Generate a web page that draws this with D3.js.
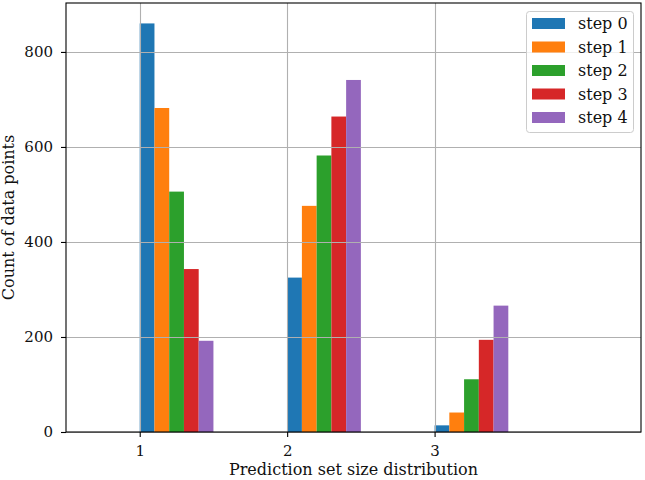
<!DOCTYPE html>
<html><head><meta charset="utf-8">
<script src="https://cdn.jsdelivr.net/npm/d3@7"></script>
<style>
html,body{margin:0;padding:0;background:#fff;}
svg{display:block;}
text{font-family:"DejaVu Serif",serif;}
</style></head>
<body>
<svg id="c" width="645" height="480"></svg>
<script>
const categories = [1, 2, 3];
const seriesNames = ["step 0", "step 1", "step 2", "step 3", "step 4"];
const step0 = [860, 325, 14];
const step1 = [682, 476, 41];
const step2 = [506, 582, 111];
const step3 = [343, 664, 194];
const step4 = [192, 741, 266];
const seriesValues = [step0, step1, step2, step3, step4];
const colors = ["#1f77b4", "#ff7f0e", "#2ca02c", "#d62728", "#9467bd"];
const yTicks = [0, 200, 400, 600, 800];
const xLabel = "Prediction set size distribution";
const yLabel = "Count of data points";

const L = 66, R = 641, T = 3, B = 432;
const svg = d3.select("#c");
const x = d3.scaleLinear().domain([0.5, 4.4]).range([L, R]);
const y = d3.scaleLinear().domain([0, 903]).range([B, T]);
const barStep = 0.1;
const bw = x(barStep) - x(0);

// bars
seriesValues.forEach((vals, i) => {
  svg.append("g").selectAll("rect").data(vals).join("rect")
    .attr("x", (d, j) => x(categories[j] + i * barStep))
    .attr("y", d => y(d))
    .attr("width", bw)
    .attr("height", d => y(0) - y(d))
    .attr("fill", colors[i]);
});

// grid (above bars like matplotlib)
const grid = svg.append("g").attr("stroke", "#b0b0b0").attr("stroke-width", 1.1);
grid.selectAll("line.h").data(yTicks).join("line")
  .attr("x1", L).attr("x2", R).attr("y1", d => Math.round(y(d)) + 0.5).attr("y2", d => Math.round(y(d)) + 0.5);
grid.selectAll("line.v").data(categories).join("line")
  .attr("y1", T).attr("y2", B).attr("x1", d => Math.round(x(d)) + 0.5).attr("x2", d => Math.round(x(d)) + 0.5);

// axes
const xAxis = d3.axisBottom(x).tickValues(categories).tickFormat(d3.format("d")).tickSizeInner(5).tickSizeOuter(0).tickPadding(8);
const yAxis = d3.axisLeft(y).tickValues(yTicks).tickFormat(d3.format("d")).tickSizeInner(5).tickSizeOuter(0).tickPadding(8);
const gx = svg.append("g").attr("transform", `translate(0,${B})`).call(xAxis);
const gy = svg.append("g").attr("transform", `translate(${L},0)`).call(yAxis);
[gx, gy].forEach(g => {
  g.select(".domain").remove();
  g.selectAll("line").attr("stroke", "#000").attr("stroke-width", 1.1);
  g.selectAll("text").attr("font-family", "DejaVu Serif").attr("font-size", 15).attr("fill", "#111");
});

// spines
svg.append("rect").attr("x", L).attr("y", T).attr("width", R - L).attr("height", B - T)
  .attr("fill", "none").attr("stroke", "#000").attr("stroke-width", 1.1);

// labels
svg.append("text").attr("x", (L + R) / 2).attr("y", 475).attr("text-anchor", "middle")
  .attr("font-size", 16).attr("fill", "#111").text(xLabel);
svg.append("text").attr("transform", `translate(14,${(T + B) / 2}) rotate(-90)`).attr("text-anchor", "middle")
  .attr("font-size", 16).attr("fill", "#111").text(yLabel);

// legend
const lg = svg.append("g");
lg.append("rect").attr("x", 526.5).attr("y", 11.5).attr("width", 107).attr("height", 121).attr("rx", 3)
  .attr("fill", "#fff").attr("fill-opacity", 0.8).attr("stroke", "#cccccc").attr("stroke-width", 1);
seriesNames.forEach((name, i) => {
  const cy = 23.5 + i * 23.5;
  lg.append("rect").attr("x", 532).attr("y", cy - 5.5).attr("width", 33).attr("height", 11).attr("fill", colors[i]);
  lg.append("text").attr("x", 578).attr("y", cy + 5.5).attr("font-size", 16).attr("fill", "#111").text(name);
});
</script>
</body></html>
